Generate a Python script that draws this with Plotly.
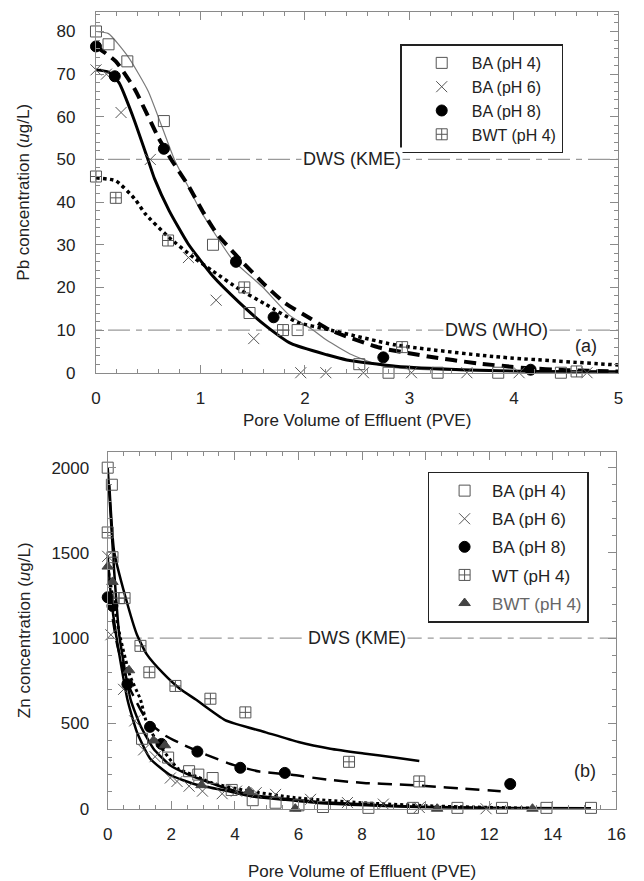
import plotly.graph_objects as go

# ---------------- Panel (a): Pb ----------------
pb_ba4_x = [0, 0.12, 0.3, 0.65, 1.12, 1.47, 1.93, 2.52, 2.8, 3.27, 3.85, 4.45]
pb_ba4_y = [80, 77, 73, 59, 30, 14, 10, 2, 0, 0, 0, 0]
pb_ba6_x = [0, 0.1, 0.24, 0.52, 0.885, 1.15, 1.51, 1.96, 2.2, 2.56, 3.02, 3.55, 4.05, 4.7]
pb_ba6_y = [71, 70, 61, 50, 27, 17, 8, 0, 0, 0, 0, 0, 0, 0]
pb_ba8_x = [0, 0.18, 0.65, 1.34, 1.7, 2.75, 4.16]
pb_ba8_y = [76.5, 69.5, 52.5, 26, 13, 3.6, 0.7]
pb_bwt_x = [0, 0.19, 0.69, 1.42, 1.79, 2.93, 4.6]
pb_bwt_y = [46, 41, 31, 20, 10, 6, 0.3]

pb_fit_ba4_x = [0, 0.12, 0.31, 0.5, 0.75, 0.875, 1.0, 1.31, 1.59, 1.85, 2.06, 2.21, 2.45, 2.71, 3.0, 3.5, 4.0, 5.0]
pb_fit_ba4_y = [80, 79.5, 74, 66, 50, 44, 38, 26.4, 20.2, 13.5, 10.3, 7.6, 4.2, 1.8, 0.9, 0.5, 0.3, 0.2]
pb_fit_ba8_x = [0, 0.19, 0.37, 0.6, 0.72, 0.88, 1.03, 1.16, 1.4, 1.62, 1.81, 2.06, 2.24, 2.71, 3.18, 3.65, 4.11, 4.5, 5.0]
pb_fit_ba8_y = [76.5, 73, 66.5, 55, 50, 44, 37.5, 32.5, 26, 20.5, 16.3, 12.6, 10, 5.9, 3.8, 2.2, 1.1, 0.6, 0.3]
pb_fit_ba6_x = [0, 0.12, 0.22, 0.35, 0.5, 0.56, 0.7, 0.88, 1.12, 1.37, 1.62, 1.87, 2.21, 2.4, 2.87, 3.5, 4.2, 5.0]
pb_fit_ba6_y = [71, 70.5, 68, 60.3, 49.8, 45.5, 38, 30.3, 22.6, 16.5, 11.1, 6.8, 4.2, 3.0, 1.5, 0.7, 0.3, 0.2]
pb_fit_bwt_x = [0, 0.19, 0.37, 0.47, 0.69, 0.94, 1.12, 1.37, 1.62, 1.93, 2.21, 2.87, 3.8, 5.0]
pb_fit_bwt_y = [45.7, 45, 40.8, 37.3, 31.9, 26.9, 23.8, 19.6, 16.1, 11.8, 10.2, 6.5, 3.8, 1.8]

pb_dws = [50, 10]
pb_dws_labels = ["DWS (KME)", "DWS (WHO)"]

# ---------------- Panel (b): Zn ----------------
zn_ba4_x = [0, 0.13, 1.08, 1.9, 2.56, 2.85, 3.3, 3.9, 4.56, 5.28, 6.0, 6.77, 8.2, 9.6, 11.0, 12.4, 13.8, 15.2]
zn_ba4_y = [2000, 1900, 410, 300, 220, 200, 180, 110, 50, 35, 20, 10, 5, 5, 5, 5, 5, 5]
zn_ba6_x = [0, 0.1, 0.5, 0.85, 1.13, 1.49, 1.97, 2.18, 2.56, 2.98, 3.6, 4.05, 4.67, 5.28, 6.38, 7.54, 8.67, 9.8, 11.9]
zn_ba6_y = [1480, 1020, 700, 515, 345, 305, 180, 160, 132, 103, 88, 103, 94, 84, 55, 36, 27, 7, 0]
zn_ba8_x = [0, 0.15, 0.62, 1.33, 1.69, 2.82, 4.17, 5.57, 12.66]
zn_ba8_y = [1240, 1190, 730, 480, 380, 335, 240, 210, 145]
zn_wt_x = [0, 0.15, 0.35, 0.53, 1.03, 1.31, 2.13, 3.23, 4.33, 7.59, 9.8]
zn_wt_y = [1620, 1475, 1235, 1235, 955, 800, 720, 645, 565, 275, 160]
zn_bwt_x = [0, 0.15, 0.67, 1.44, 1.8, 2.95, 4.44, 5.9, 10.36, 13.36]
zn_bwt_y = [1420, 1330, 812, 400, 372, 138, 103, 0, 0, 0]

zn_fit_wt_x = [0.05, 0.2, 0.56, 0.92, 1.23, 1.74, 2.26, 2.77, 3.69, 4.97, 6.0, 7.0, 8.05, 9.08, 9.8]
zn_fit_wt_y = [1900, 1510, 1240, 1020, 905, 795, 705, 640, 520, 448, 391, 352, 324, 299, 280]
zn_fit_ba8_x = [0.05, 0.3, 0.67, 1.23, 1.8, 2.41, 3.13, 3.95, 4.77, 5.79, 6.92, 8.05, 9.18, 10.1, 11.2, 12.36]
zn_fit_ba8_y = [1240, 960, 716, 520, 430, 372, 314, 257, 218, 199, 170, 151, 142, 132, 118, 103]
zn_fit_ba4_x = [0, 0.1, 0.2, 0.36, 0.72, 1.03, 1.44, 1.95, 2.56, 3.69, 4.56, 5.59, 6.62, 8.15, 9.7, 12, 15.2]
zn_fit_ba4_y = [2000, 1700, 1400, 1023, 640, 487, 352, 257, 199, 122, 80, 58, 40, 24, 12, 5, 2]
zn_fit_ba6_x = [0, 0.1, 0.26, 0.62, 0.92, 1.33, 1.95, 2.77, 3.69, 4.56, 5.59, 6.62, 8.15, 9.7, 11.9]
zn_fit_ba6_y = [1480, 1250, 1023, 640, 448, 295, 199, 142, 107, 72, 52, 34, 20, 10, 3]
zn_fit_bwt_x = [0, 0.15, 0.4, 0.7, 1.03, 1.23, 1.6, 2.2, 2.67, 3.3, 4.4, 5.9, 8, 10.4, 13.4]
zn_fit_bwt_y = [1420, 1250, 1000, 780, 640, 500, 380, 237, 199, 150, 105, 65, 35, 15, 3]

zn_dws = [1000]

FONT = "Liberation Sans, Arial, sans-serif"
W, H = 644, 881

fig = go.Figure()

def fitline(x, y, xa, ya, color="black", width=3, dash="solid"):
    fig.add_trace(go.Scatter(x=x, y=y, mode="lines", xaxis=xa, yaxis=ya,
                             line=dict(color=color, width=width, dash=dash, shape="spline", smoothing=0.5),
                             showlegend=False, hoverinfo="skip"))

def dws(val, xmax, xa, ya):
    fig.add_trace(go.Scatter(x=[0, xmax], y=[val, val], mode="lines", xaxis=xa, yaxis=ya,
                             line=dict(color="#9a9a9a", width=1.3, dash="6px,6px,22px,6px"),
                             showlegend=False, hoverinfo="skip"))

# --- panel (a) ---
for v in pb_dws:
    dws(v, 5, "x", "y")
fitline(pb_fit_ba4_x, pb_fit_ba4_y, "x", "y", color="#7a7a7a", width=1.2)
fitline(pb_fit_bwt_x, pb_fit_bwt_y, "x", "y", color="black", width=3.5, dash="dot")
fitline(pb_fit_ba6_x, pb_fit_ba6_y, "x", "y", color="black", width=3)
fitline(pb_fit_ba8_x, pb_fit_ba8_y, "x", "y", color="black", width=4, dash="12px,7px")

def mk(x, y, name, xa, ya, sym, size, color, lw=1, legend="legend", fill=None):
    fig.add_trace(go.Scatter(x=x, y=y, mode="markers", name=name, xaxis=xa, yaxis=ya,
                             legend=legend, legendgroup=name + legend,
                             marker=dict(symbol=sym, size=size, color=fill if fill else color,
                                         line=dict(color=color, width=lw)),
                             cliponaxis=False))

mk(pb_ba4_x, pb_ba4_y, "BA (pH 4)", "x", "y", "square-open", 11, "#555555")
mk(pb_ba6_x, pb_ba6_y, "BA (pH 6)", "x", "y", "x-thin-open", 11, "#555555", lw=1)
mk(pb_ba8_x, pb_ba8_y, "BA (pH 8)", "x", "y", "circle", 11, "black")
mk(pb_bwt_x, pb_bwt_y, "BWT (pH 4)", "x", "y", "square-cross-open", 11, "#555555")

# --- panel (b) ---
dws(zn_dws[0], 16, "x2", "y2")
fitline(zn_fit_bwt_x, zn_fit_bwt_y, "x2", "y2", color="black", width=3, dash="dot")
fitline(zn_fit_ba4_x, zn_fit_ba4_y, "x2", "y2", color="black", width=2.5)
fitline(zn_fit_ba6_x, zn_fit_ba6_y, "x2", "y2", color="black", width=2.5)
fitline(zn_fit_wt_x, zn_fit_wt_y, "x2", "y2", color="black", width=2.5)
fitline(zn_fit_ba8_x, zn_fit_ba8_y, "x2", "y2", color="black", width=2.5, dash="14px,8px")

mk(zn_ba4_x, zn_ba4_y, "BA (pH 4)", "x2", "y2", "square-open", 11, "#555555", legend="legend2")
mk(zn_ba6_x, zn_ba6_y, "BA (pH 6)", "x2", "y2", "x-thin-open", 11, "#555555", legend="legend2")
mk(zn_ba8_x, zn_ba8_y, "BA (pH 8)", "x2", "y2", "circle", 11, "black", legend="legend2")
mk(zn_wt_x, zn_wt_y, "WT (pH 4)", "x2", "y2", "square-cross-open", 11, "#555555", legend="legend2")
mk(zn_bwt_x, zn_bwt_y, "<span style='color:#666666'>BWT (pH 4)</span>", "x2", "y2",
   "triangle-up", 10, "#444444", legend="legend2")

# domains (pixel -> paper)
def px(yp):
    return 1 - yp / H

axis_common = dict(showline=True, linecolor="#8a8a8a", linewidth=1.2, mirror="ticks",
                   ticks="inside", tickcolor="#8a8a8a", ticklen=8, tickwidth=1.2,
                   showgrid=False, zeroline=False,
                   tickfont=dict(family=FONT, size=17, color="#222222"))
minor_tick = dict(ticks="inside", ticklen=4, tickcolor="#8a8a8a", tickwidth=1)

fig.update_layout(
    width=W, height=H, margin=dict(l=0, r=0, t=0, b=0),
    paper_bgcolor="white", plot_bgcolor="white",
    font=dict(family=FONT, color="#222222"),
    xaxis=dict(domain=[93 / W, 627 / W], range=[0, 5], dtick=1, anchor="y",
               minor=dict(dtick=0.2, **minor_tick), ticklabelstandoff=10,
               title=dict(text="Pore Volume of Effluent (PVE)", font=dict(size=17), standoff=6),
               **axis_common),
    yaxis=dict(domain=[px(377), px(12)], range=[0, 84.6], dtick=10, anchor="x",
               minor=dict(dtick=2, **minor_tick), ticklabelstandoff=16,
               title=dict(text="Pb concentration (<i>u</i>g/L)", font=dict(size=17), standoff=22),
               **axis_common),
    xaxis2=dict(domain=[105 / W, 625 / W], range=[0, 16], dtick=2, anchor="y2",
                minor=dict(dtick=0.5, **minor_tick), ticklabelstandoff=10,
                title=dict(text="Pore Volume of Effluent (PVE)", font=dict(size=17), standoff=22),
                **axis_common),
    yaxis2=dict(domain=[px(818), px(457)], range=[0, 2093], dtick=500, anchor="x2",
                minor=dict(dtick=100, **minor_tick), ticklabelstandoff=14,
                title=dict(text="Zn concentration (<i>u</i>g/L)", font=dict(size=17), standoff=16),
                **axis_common),
    legend=dict(x=404 / W, y=px(45), xanchor="left", yanchor="top",
                bordercolor="#222222", borderwidth=1.5, bgcolor="white",
                font=dict(family=FONT, size=16, color="#222222"),
                itemwidth=50, tracegroupgap=0, indentation=10),
    legend2=dict(x=432 / W, y=px(477), xanchor="left", yanchor="top",
                 bordercolor="#222222", borderwidth=1.5, bgcolor="white",
                 font=dict(family=FONT, size=17, color="#222222"),
                 itemwidth=45, tracegroupgap=3, indentation=8),
)

annots = [
    dict(x=2.45, y=50, xref="x", yref="y", text="DWS (KME)"),
    dict(x=3.83, y=10, xref="x", yref="y", text="DWS (WHO)"),
    dict(x=7.85, y=1000, xref="x2", yref="y2", text="DWS (KME)"),
]
for a in annots:
    fig.add_annotation(**a, showarrow=False, bgcolor="white",
                       font=dict(family=FONT, size=18, color="#222222"), borderpad=1)
fig.add_annotation(x=4.69, y=6.3, xref="x", yref="y", text="(a)", showarrow=False,
                   font=dict(family=FONT, size=18, color="#222222"))
fig.add_annotation(x=15.0, y=220, xref="x2", yref="y2", text="(b)", showarrow=False,
                   font=dict(family=FONT, size=18, color="#222222"))

fig.write_html("out.html")
